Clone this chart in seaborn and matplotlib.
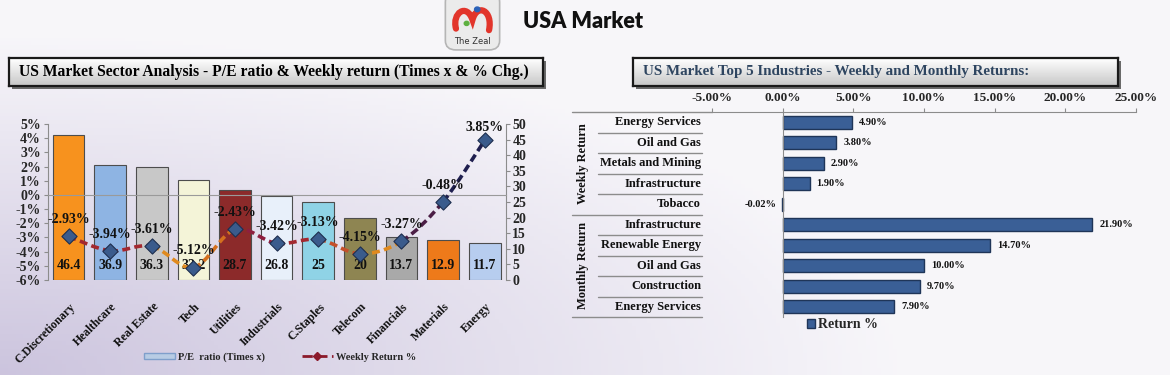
import numpy as np
import pandas as pd
import matplotlib
matplotlib.use("Agg")
import matplotlib.pyplot as plt
import matplotlib.transforms as mtransforms
from matplotlib.path import Path
from matplotlib.patches import PathPatch, Patch, Rectangle, FancyBboxPatch, Circle
from matplotlib.lines import Line2D
import seaborn as sns

# left chart: sector P/E and weekly return
sectors = ["C.Discretionary", "Healthcare", "Real Estate", "Tech", "Utilities",
	"Industrials", "C.Staples", "Telecom", "Financials", "Materials", "Energy"]
pe_ratio = [46.4, 36.9, 36.3, 32.2, 28.7, 26.8, 25, 20, 13.7, 12.9, 11.7]
pe_labels = ["46.4", "36.9", "36.3", "32.2", "28.7", "26.8", "25", "20",
	"13.7", "12.9", "11.7"]
weekly_ret = [-2.93, -3.94, -3.61, -5.12, -2.43, -3.42, -3.13, -4.15,
	-3.27, -0.48, 3.85]

bar_colors = ["#F7921E", "#8EB4E3", "#C8C8C8", "#F4F4D8", "#8C2A2A", "#E8F0FA",
	"#8FD3E6", "#8E8552", "#A9A9A9", "#EE7A1A", "#B7CDEF"]
seg_colors = ["#A3282F", "#A3282F", "#E08A1E", "#D4701E", "#8E1F3F", "#A3282F",
	"#C4502A", "#E08A1E", "#4B1E45", "#1F1F4F"]

# right chart: top 5 industries
weekly_names = ["Energy Services", "Oil and Gas", "Metals and Mining",
	"Infrastructure", "Tobacco"]
weekly_vals = [4.90, 3.80, 2.90, 1.90, -0.02]
monthly_names = ["Infrastructure", "Renewable Energy", "Oil and Gas",
	"Construction", "Energy Services"]
monthly_vals = [21.90, 14.70, 10.00, 9.70, 7.90]
x_ticks = [-5, 0, 5, 10, 15, 20, 25]

W, H = 1170, 375
sns.set_style("white")
plt.rcParams["font.family"] = ["Liberation Serif", "DejaVu Serif"]
plt.rcParams["font.weight"] = "bold"

def px_rect(x0, y0, x1, y1):
	# pixel box (top-left origin) -> figure fraction rect
	return [x0 / W, 1 - y1 / H, (x1 - x0) / W, (y1 - y0) / H]

fig = plt.figure(figsize=(W / 100, H / 100), dpi=100)

# background wash, lavender at bottom-left
bg = fig.add_axes([0, 0, 1, 1], zorder=-10)
xx, yy = np.meshgrid(np.linspace(0, 1, 300), np.linspace(0, 1, 100))
d = np.clip(np.sqrt((xx * 1.3) ** 2 + (yy * 1.1) ** 2) / 1.0, 0, 1)
lav = np.array([0.80, 0.77, 0.87])
white = np.array([0.97, 0.965, 0.98])
img = lav[None, None, :] * (1 - d[..., None]) + white[None, None, :] * d[..., None]
bg.imshow(img, extent=[0, 1, 0, 1], origin="lower", aspect="auto")
bg.axis("off")

# header logo and title
logo = fig.add_axes(px_rect(443, 0, 502, 52))
logo.set_xlim(0, 1)
logo.set_ylim(0, 1)
logo.axis("off")
logo.add_patch(FancyBboxPatch((0.04, 0.04), 0.92, 1.1, boxstyle="round,pad=0,rounding_size=0.18",
	fc="#EBEBEB", ec="#B5B5B5", lw=1.2))
verts = [(0.22, 0.45), (0.15, 0.75), (0.40, 0.95), (0.50, 0.62),
	(0.58, 0.95), (0.85, 0.80), (0.78, 0.42)]
codes = [Path.MOVETO, Path.CURVE4, Path.CURVE4, Path.CURVE4, Path.CURVE4, Path.CURVE4, Path.CURVE4]
logo.add_patch(PathPatch(Path(verts, codes), fill=False, ec="#E2352B", lw=4.5, capstyle="round"))
logo.add_patch(Circle((0.58, 0.82), 0.045, color="#2A62B8"))
logo.add_patch(Circle((0.40, 0.55), 0.04, color="#5DB040"))
logo.text(0.5, 0.2, "The Zeal", ha="center", va="center", fontsize=6,
	family="DejaVu Sans", weight="normal", color="#333333")

fig.text(523 / W, 1 - 22 / H, "USA Market", ha="left", va="center", fontsize=15.5,
	family="Lato", weight="heavy", color="#111111")

def title_box(x0, y0, x1, y1, text, color, size):
	fig.patches.append(Rectangle(((x0 + 3) / W, 1 - (y1 + 3) / H), (x1 - x0) / W,
		(y1 - y0) / H, transform=fig.transFigure, fc="#6A6A6A", ec="none", zorder=1))
	tb = fig.add_axes(px_rect(x0, y0, x1, y1), zorder=2)
	grad = np.linspace(1.0, 0.78, 50)[:, None] * np.ones((50, 2))
	tb.imshow(grad, cmap="gray", vmin=0, vmax=1, extent=[0, 1, 0, 1], aspect="auto")
	tb.set_xticks([])
	tb.set_yticks([])
	for sp in tb.spines.values():
		sp.set_color("#1A1A1A")
		sp.set_linewidth(1.6)
	tb.text(10 / (x1 - x0), 0.5, text, transform=tb.transAxes, ha="left", va="center",
		fontsize=size, weight="bold", color=color)

title_box(9, 58, 543, 86,
	"US Market Sector Analysis - P/E ratio & Weekly return (Times x & % Chg.)",
	"#000000", 11.25)
title_box(633, 58, 1118, 86,
	"US Market Top 5 Industries - Weekly and Monthly Returns:", "#2E4560", 10.8)

# ---- left chart ----
ax = fig.add_axes(px_rect(47.7, 124, 505.5, 280))
ax2 = ax.twinx()
sns.barplot(x=sectors, y=pe_ratio, hue=sectors, palette=dict(zip(sectors, bar_colors)),
	legend=False, ax=ax2, width=0.76, edgecolor="#4D4D4D", linewidth=0.8, saturation=1)
ax2.set_ylim(0, 50)
ax.set_ylim(-6, 5)
ax.set_xlim(-0.5, len(sectors) - 0.5)
ax.set_zorder(ax2.get_zorder() + 1)
ax.patch.set_visible(False)
ax2.patch.set_visible(False)

# smoothed dashed return line, coloured per segment
pts = np.column_stack([np.arange(len(weekly_ret)), weekly_ret]).astype(float)
n = len(pts)
for i in range(n - 1):
	p0, p1, p2, p3 = pts[max(i - 1, 0)], pts[i], pts[i + 1], pts[min(i + 2, n - 1)]
	c1 = p1 + (p2 - p0) / 6
	c2 = p2 - (p3 - p1) / 6
	seg = Path([p1, c1, c2, p2], [Path.MOVETO, Path.CURVE4, Path.CURVE4, Path.CURVE4])
	ax.add_patch(PathPatch(seg, fill=False, ec=seg_colors[i], lw=2.6,
		linestyle=(0, (2.2, 1.2)), zorder=3))
sns.scatterplot(x=np.arange(n), y=weekly_ret, marker="D", s=60, color="#3A5B8C",
	edgecolor="#1E2F4F", linewidth=0.8, ax=ax, zorder=5)

for i, v in enumerate(weekly_ret):
	off = 9 if i == n - 1 else 12
	ax.annotate(f"{v:.2f}%", (i, v), xytext=(0, off), textcoords="offset points",
		ha="center", va="center", fontsize=10, weight="bold", color="#111111", zorder=6)

blend2 = mtransforms.blended_transform_factory(ax2.transData, ax2.transAxes)
for i, lab in enumerate(pe_labels):
	ax2.text(i, 0.09, lab, transform=blend2, ha="center", va="center", fontsize=10,
		weight="bold", color="#111111")

ax.set_yticks(range(-6, 6))
ax.set_yticklabels([f"{t}%" for t in range(-6, 6)], fontsize=10, weight="bold")
ax2.set_yticks(range(0, 51, 5))
ax2.set_yticklabels([str(t) for t in range(0, 51, 5)], fontsize=10, weight="bold")
ax2.set_ylabel("")
ax.set_ylabel("")
ax.set_xlabel("")

for sp in ["top", "right"]:
	ax.spines[sp].set_visible(False)
for sp in ["top", "left", "bottom"]:
	ax2.spines[sp].set_visible(False)
ax.spines["left"].set_color("#8C8C8C")
ax2.spines["right"].set_color("#8C8C8C")
ax.spines["bottom"].set_position(("data", 0))
ax.spines["bottom"].set_color("#9A9A9A")
ax.tick_params(axis="y", length=3, color="#8C8C8C", pad=2)
ax2.tick_params(axis="y", length=3, color="#8C8C8C", pad=2)
ax.set_xticks(np.arange(n))
ax.set_xticklabels([])
ax.tick_params(axis="x", which="major", length=0)
ax.set_xticks(np.arange(-0.5, n), minor=True)
ax.tick_params(axis="x", which="minor", length=4, color="#9A9A9A", direction="out")
ax2.tick_params(axis="x", length=0, labelbottom=False)

blend = mtransforms.blended_transform_factory(ax.transData, ax.transAxes)
for i, name in enumerate(sectors):
	ax.text(i + 0.12, -0.16, name, transform=blend, rotation=45, rotation_mode="anchor",
		ha="right", va="center", fontsize=8.5, weight="bold", color="#111111")

fig.legend(handles=[Patch(fc="#B8CCE4", ec="#7F9FCB"),
		Line2D([0], [0], color="#8B1A2B", ls="--", lw=2, marker="D", markersize=4)],
	labels=["P/E  ratio (Times x)", "Weekly Return %"], loc="center",
	bbox_to_anchor=(280 / W, 1 - 357 / H), ncol=2, frameon=False,
	prop=dict(weight="bold", size=7.5), handlelength=3, handleheight=0.45,
	columnspacing=3.5, handletextpad=0.3)

# ---- right chart ----
names = weekly_names + monthly_names
vals = weekly_vals + monthly_vals
df = pd.DataFrame({"key": [f"r{i}" for i in range(len(vals))], "ret": vals})
axr = fig.add_axes(px_rect(712, 112, 1136, 317))
sns.barplot(data=df, y="key", x="ret", orient="h", color="#3A5F96", edgecolor="#1F3558",
	linewidth=1, width=0.62, saturation=1, ax=axr)
axr.set_xlim(-5, 25)
axr.set_ylim(len(vals) - 0.5, -0.5)
axr.patch.set_visible(False)
axr.xaxis.tick_top()
axr.set_xticks(x_ticks)
axr.set_xticklabels([f"{t:.2f}%" for t in x_ticks], fontsize=9.5, weight="bold")
axr.tick_params(axis="x", length=3, color="#8C8C8C", pad=3)
axr.set_xlabel("")
axr.set_ylabel("")
axr.set_yticks(range(len(vals)))
axr.set_yticklabels([])
axr.tick_params(axis="y", which="major", length=0)
axr.set_yticks(np.arange(-0.5, len(vals)), minor=True)
axr.tick_params(axis="y", which="minor", length=3, color="#8C8C8C", direction="out")
for sp in ["right", "bottom"]:
	axr.spines[sp].set_visible(False)
axr.spines["top"].set_color("#8C8C8C")
axr.spines["left"].set_position(("data", 0))
axr.spines["left"].set_color("#8C8C8C")

blendr = mtransforms.blended_transform_factory(axr.transAxes, axr.transData)
for i, name in enumerate(names):
	axr.text(-0.026, i, name, transform=blendr, ha="right", va="center", fontsize=9,
		weight="bold", color="#111111")
for b in np.arange(-0.5, len(vals)):
	x_start = -0.330 if b in (-0.5, 4.5, 9.5) else -0.269
	x_end = 0 if b == -0.5 else -0.024
	axr.plot([x_start, x_end], [b, b], transform=blendr, color="#8C8C8C", lw=1.0,
		clip_on=False)
axr.text(-0.304, 2, "Weekly Return", transform=blendr, rotation=90, ha="center",
	va="center", fontsize=9, weight="bold", color="#111111")
axr.text(-0.304, 7, "Monthly Return", transform=blendr, rotation=90, ha="center",
	va="center", fontsize=9, weight="bold", color="#111111")

for i, v in enumerate(vals):
	if v >= 0:
		axr.annotate(f"{v:.2f}%", (v, i), xytext=(5, 0), textcoords="offset points",
			ha="left", va="center", fontsize=7.5, weight="bold", color="#111111")
	else:
		axr.annotate(f"{v:.2f}%", (0, i), xytext=(-4, 0), textcoords="offset points",
			ha="right", va="center", fontsize=7.5, weight="bold", color="#111111")

fig.legend(handles=[Patch(fc="#3A5F96", ec="#1F3558")], labels=["Return %"],
	loc="center", bbox_to_anchor=(842 / W, 1 - 325 / H), frameon=False,
	prop=dict(weight="bold", size=10), handlelength=0.6, handleheight=0.6,
	handletextpad=0.2)

fig.savefig("out.png", dpi=100)
